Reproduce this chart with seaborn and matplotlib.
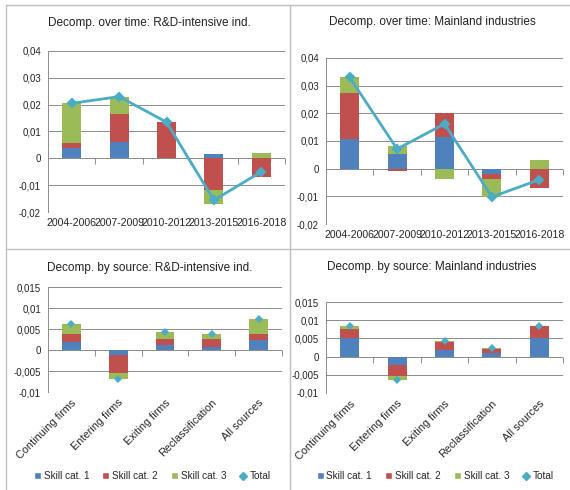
import numpy as np
import matplotlib
matplotlib.use("Agg")
import matplotlib.pyplot as plt
from matplotlib.patches import Patch
from matplotlib.lines import Line2D
from matplotlib.ticker import MultipleLocator, FuncFormatter
import seaborn as sns

# ---- data ----
periods = ["2004-2006", "2007-2009", "2010-2012", "2013-2015", "2016-2018"]
sources = ["Continuing firms", "Entering firms", "Exiting firms", "Reclassification", "All sources"]

rd_time_s1 = [0.0040, 0.0062, 0.0000, 0.0016, 0.0000]
rd_time_s2 = [0.0018, 0.0103, 0.0136, -0.0117, -0.0070]
rd_time_s3 = [0.0147, 0.0065, 0.0000, -0.0055, 0.0020]
rd_time_tot = [0.0205, 0.0230, 0.0135, -0.0156, -0.0050]

ml_time_s1 = [0.0108, 0.0053, 0.0113, -0.0020, 0.0000]
ml_time_s2 = [0.0167, -0.0010, 0.0087, -0.0017, -0.0070]
ml_time_s3 = [0.0055, 0.0028, -0.0038, -0.0065, 0.0030]
ml_time_tot = [0.0330, 0.0071, 0.0162, -0.0102, -0.0040]

rd_src_s1 = [0.0019, -0.0012, 0.0011, 0.0007, 0.0023]
rd_src_s2 = [0.0018, -0.0042, 0.0015, 0.0020, 0.0014]
rd_src_s3 = [0.0024, -0.0015, 0.0017, 0.0011, 0.0036]
rd_src_tot = [0.0061, -0.0069, 0.0043, 0.0038, 0.0073]

ml_src_s1 = [0.0050, -0.0022, 0.0017, 0.0010, 0.0052]
ml_src_s2 = [0.0027, -0.0030, 0.0022, 0.0011, 0.0032]
ml_src_s3 = [0.0006, -0.0011, 0.0004, 0.0003, 0.0001]
ml_src_tot = [0.0083, -0.0063, 0.0043, 0.0024, 0.0085]

skill_names = ["Skill cat. 1", "Skill cat. 2", "Skill cat. 3"]
skill_cols = ["#4F81BD", "#C0504D", "#9BBB59"]
tot_col = "#4BACC6"
grid_col = "#8C8C8C"

sns.set_style("white")
plt.rcParams["font.family"] = ["Liberation Sans", "DejaVu Sans"]

fig = plt.figure(figsize=(5.7, 4.9), dpi=100)
W, H = 570.0, 490.0


def px_axes(l, t, r, b):
    return fig.add_axes([l / W, 1 - b / H, (r - l) / W, (b - t) / H])


def comma_fmt(v, pos):
    return ("%g" % round(v, 4)).replace(".", ",")


def stacked(ax, cats, layers, total, ylo, yhi, step, line=True, rotate=False):
    layers = [np.array(l, dtype=float) for l in layers]
    pos_base = np.zeros(len(cats))
    neg_base = np.zeros(len(cats))
    for vals, col in zip(layers, skill_cols):
        bottom = np.where(vals >= 0, pos_base, neg_base)
        sns.barplot(x=cats, y=vals, bottom=bottom, color=col, saturation=1,
                    width=0.4, errorbar=None, order=cats, ax=ax, zorder=2,
                    linewidth=0, edgecolor="none")
        pos_base = pos_base + np.where(vals > 0, vals, 0)
        neg_base = neg_base + np.where(vals < 0, vals, 0)
    sns.pointplot(x=cats, y=total, color=tot_col, markers="D", order=cats,
                  linestyles="-" if line else "none", errorbar=None, ax=ax,
                  markersize=3.6, linewidth=2.0 if line else 0)
    for c in ax.collections:
        c.set_zorder(4)
    for l in ax.lines:
        l.set_zorder(4)

    ax.set_xlim(-0.5, len(cats) - 0.5)
    ax.set_ylim(ylo, yhi)
    ax.yaxis.set_major_locator(MultipleLocator(step))
    ax.yaxis.set_major_formatter(FuncFormatter(comma_fmt))
    ax.grid(axis="y", color=grid_col, linewidth=0.7, zorder=0)
    ax.set_axisbelow(True)
    for s in ["top", "right", "bottom"]:
        ax.spines[s].set_visible(False)
    ax.spines["left"].set_color(grid_col)
    ax.spines["left"].set_linewidth(0.7)
    ax.axhline(0, color=grid_col, linewidth=0.7, zorder=1)
    # category-axis tick marks sit on the zero line, between categories
    ax.plot(np.arange(len(cats) + 1) - 0.5, np.zeros(len(cats) + 1), ls="none",
            marker=3, ms=4, mew=0.7, color=grid_col, zorder=1, clip_on=False)
    ax.tick_params(axis="y", length=3, color=grid_col, width=0.7, labelsize=7, pad=2)
    ax.tick_params(axis="x", length=0, labelsize=7.6 if not rotate else 7.8, pad=4)
    ax.set_xlabel("")
    ax.set_ylabel("")
    if rotate:
        plt.setp(ax.get_xticklabels(), rotation=45, ha="right", rotation_mode="anchor")


ax1 = px_axes(48, 51, 285, 212)
stacked(ax1, periods, [rd_time_s1, rd_time_s2, rd_time_s3], rd_time_tot,
        -0.02, 0.04, 0.01)

ax2 = px_axes(326, 58, 563, 224)
stacked(ax2, periods, [ml_time_s1, ml_time_s2, ml_time_s3], ml_time_tot,
        -0.02, 0.04, 0.01)

ax3 = px_axes(48, 287, 282, 392)
stacked(ax3, sources, [rd_src_s1, rd_src_s2, rd_src_s3], rd_src_tot,
        -0.01, 0.015, 0.005, line=False, rotate=True)

ax4 = px_axes(326, 302, 563, 393)
stacked(ax4, sources, [ml_src_s1, ml_src_s2, ml_src_s3], ml_src_tot,
        -0.01, 0.015, 0.005, line=False, rotate=True)

# titles are centred on each panel (Excel chart area), not on the plot area
titles = [("Decomp. over time: R&D-intensive ind.", 149, 23),
          ("Decomp. over time: Mainland industries", 432, 22),
          ("Decomp. by source: R&D-intensive ind.", 150, 268),
          ("Decomp. by source: Mainland industries", 432, 267)]
for txt, x, y in titles:
    fig.text(x / W, 1 - y / H, txt, ha="center", va="center", fontsize=8.5, color="#222222")

handles = [Patch(facecolor=c, label=n) for c, n in zip(skill_cols, skill_names)]
handles.append(Line2D([], [], ls="none", marker="D", ms=3.6, color=tot_col, label="Total"))
for cx in [152, 435]:
    fig.legend(handles=handles, loc="center", bbox_to_anchor=(cx / W, 1 - 476 / H),
               ncol=4, frameon=False, fontsize=7.2, handlelength=0.7, handleheight=0.7,
               handletextpad=0.3, columnspacing=1.3)

# panel borders
bc = "#BFBFBF"
for xs, ys in [([6, 6], [5, 490]), ([6, 570], [5, 5]), ([290, 290], [5, 490]), ([6, 570], [249, 249])]:
    fig.add_artist(Line2D([x / W for x in xs], [1 - y / H for y in ys], color=bc, lw=1))

fig.savefig("out.png", dpi=100)
